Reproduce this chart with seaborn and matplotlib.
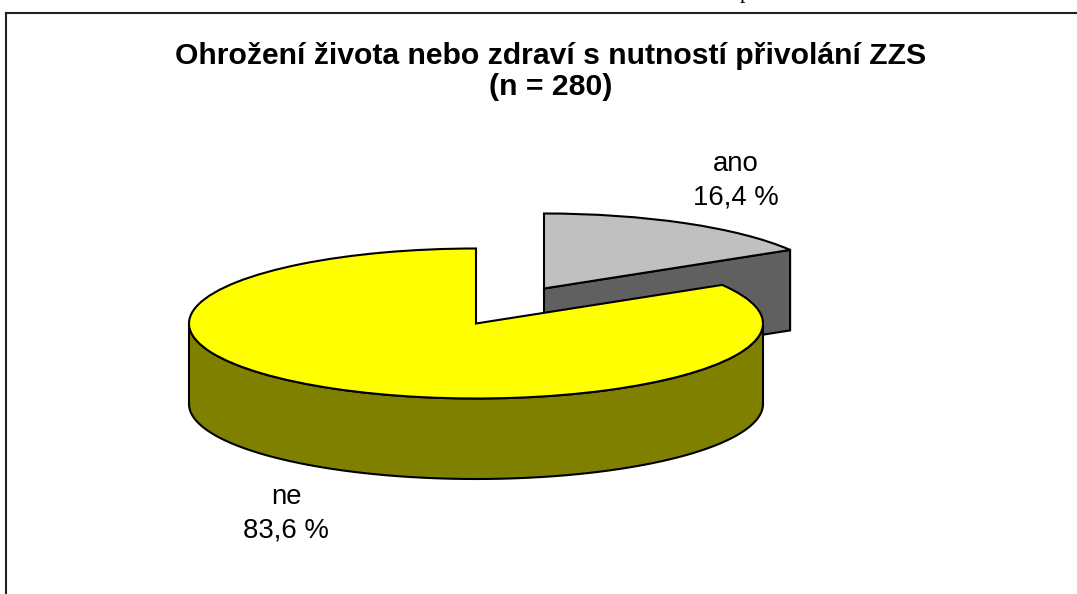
import numpy as np
import seaborn as sns
import matplotlib
matplotlib.use("Agg")
import matplotlib.pyplot as plt
from matplotlib.patches import Polygon

# ---- data ----
categories = ["ano", "ne"]
shares = [16.4, 83.6]
value_labels = ["16,4 %", "83,6 %"]
slice_top = ["#C0C0C0", "#FFFF00"]
slice_side = ["#606060", "#808000"]
title_lines = ["Ohrožení života nebo zdraví s nutností přivolání ZZS", "(n = 280)"]

# ---- layout (pixels of the 1077x594 picture) ----
W, H = 1077, 594
FRAME_L, FRAME_T = 5.5, 12.5
RX, RY = 287.0, 75.0      # projected ellipse radii
DEPTH = 80.5              # pie height
CENTERS = [(544.0, 288.5), (476.0, 323.5)]
LABEL_POS = [(736, 181), (286, 514)]
SQ = RX / RY              # pixel -> unsquashed y

sns.set_theme(style="white")
plt.rcParams["font.family"] = ["Liberation Sans", "DejaVu Sans"]

fig = plt.figure(figsize=(W / 100, H / 100), dpi=100, facecolor="white")
ax = fig.add_axes([FRAME_L / W, 0, 1 - FRAME_L / W, (H - FRAME_T) / H])


def ydata(py):
    return (H - py) * SQ


wedges, _ = ax.pie(
    shares, startangle=90, counterclock=False, radius=RX, center=(476, ydata(323.5)),
    colors=slice_top, frame=True,
    wedgeprops=dict(edgecolor="black", linewidth=1.5, joinstyle="miter"),
)
ax.set_aspect("auto")
ax.set_xlim(FRAME_L, W)
ax.set_ylim(ydata(H), ydata(FRAME_T))
ax.set_xticks([])
ax.set_yticks([])
for name, sp in ax.spines.items():
    sp.set_visible(name in ("left", "top"))
    sp.set_linewidth(1.5)
    sp.set_color("#202020")

d = DEPTH * SQ
for w, (cx, cy) in zip(wedges, CENTERS):
    w.set_center((cx, ydata(cy)))

# grey slice: flat cut face seen from the front, behind the big slice
g = wedges[0]
gx, gy = g.center
tip = np.deg2rad(g.theta1)
tx, ty = gx + RX * np.cos(tip), gy + RX * np.sin(tip)
ax.add_patch(Polygon([(gx, gy), (tx, ty), (tx, ty - d), (gx, gy - d)], closed=True,
                     fc=slice_side[0], ec="black", lw=1.5, zorder=1))
g.set_zorder(2)

# yellow slice: the curved outer wall along the front half
y = wedges[1]
yx, yy = y.center
ang = np.deg2rad(np.linspace(180, 360, 181))
ex, ey = yx + RX * np.cos(ang), yy + RX * np.sin(ang)
ax.fill(np.r_[ex, ex[::-1]], np.r_[ey, ey[::-1] - d],
        fc=slice_side[1], ec="black", lw=1.5, zorder=3)
y.set_zorder(4)

# texts
for i, line in enumerate(title_lines):
    fig.text(551 / W, 1 - (56 + 31 * i) / H, line, ha="center", va="center",
             fontsize=21.7, fontweight="bold", color="black")
for cat, val, (lx, ly) in zip(categories, value_labels, LABEL_POS):
    fig.text(lx / W, 1 - ly / H, f"{cat}\n{val}", ha="center", va="center",
             fontsize=19.8, color="black", linespacing=1.36)
fig.text(745 / W, 1 + 2 / H, "p", ha="center", va="baseline", fontsize=16,
         family="Liberation Serif", color="black")

fig.savefig("out.png", dpi=100, facecolor="white")
